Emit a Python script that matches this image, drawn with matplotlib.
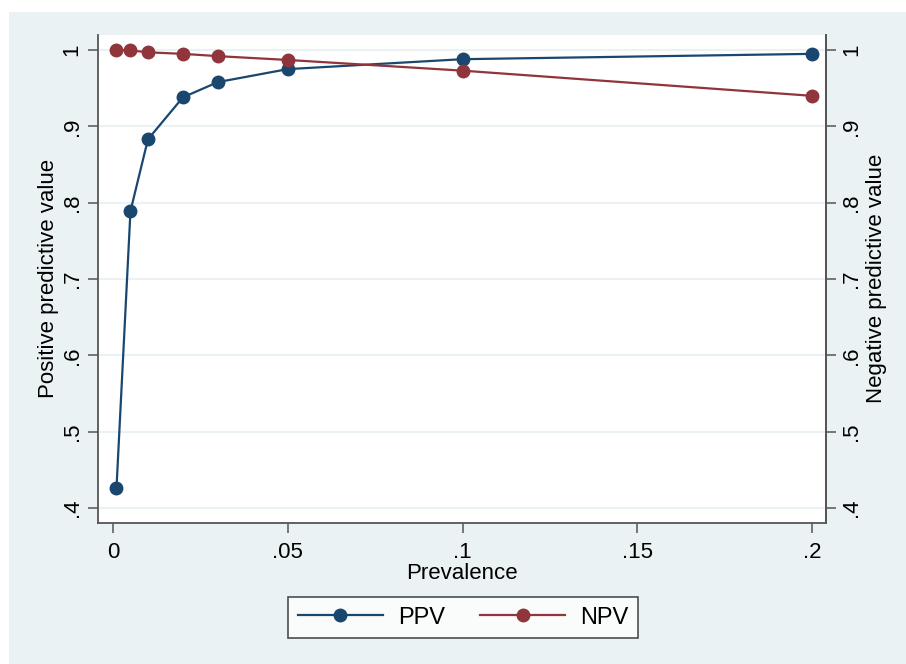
import matplotlib
matplotlib.use("Agg")
import matplotlib.pyplot as plt
from matplotlib.patches import Rectangle

plt.rcParams['font.family'] = ['Liberation Sans', 'DejaVu Sans']

prevalence = [0.001, 0.005, 0.01, 0.02, 0.03, 0.05, 0.1, 0.2]
ppv = [0.426, 0.789, 0.883, 0.938, 0.958, 0.975, 0.988, 0.995]
npv = [1.000, 0.9995, 0.997, 0.995, 0.992, 0.987, 0.973, 0.940]
xticks = [0, 0.05, 0.1, 0.15, 0.2]
xticklabels = ["0", ".05", ".1", ".15", ".2"]
yticks = [0.4, 0.5, 0.6, 0.7, 0.8, 0.9, 1.0]
yticklabels = [".4", ".5", ".6", ".7", ".8", ".9", "1"]

W, H = 906, 664
BG = "#eaf2f3"
C1 = "#1a476f"
C2 = "#90353b"
AX = "#555555"
fs = 16

fig = plt.figure(figsize=(W / 100, H / 100), dpi=100)
fig.patch.set_facecolor("white")
fig.add_artist(Rectangle((9 / W, 0), 1 - 9 / W, 1 - 12 / H, transform=fig.transFigure,
                         facecolor=BG, edgecolor="none", zorder=0))

l, r, t, b = 98, 826, 35, 522.7
ax = fig.add_axes([l / W, 1 - b / H, (r - l) / W, (b - t) / H])
ax.set_facecolor("white")
ax.set_xlim(-0.00429, 0.204)
ax.set_ylim(0.3807, 1.0197)

for yv in yticks:
    ax.axhline(yv, color=BG, lw=1.5, zorder=1)

ax.plot(prevalence, ppv, color=C1, lw=1.6, marker="o", ms=9, label="PPV", zorder=3)
ax.plot(prevalence, npv, color=C2, lw=1.6, marker="o", ms=9, label="NPV", zorder=3)

ax.set_xticks(xticks)
ax.set_xticklabels(xticklabels, fontsize=fs)
ax.set_yticks(yticks)
ax.set_yticklabels(yticklabels, fontsize=fs, rotation=90, va="center")
ax.tick_params(axis="both", direction="out", length=7, width=1.1, color=AX, pad=4)
ax.tick_params(axis="x", pad=7)
ax.spines["top"].set_visible(False)
for s in ["left", "right", "bottom"]:
    ax.spines[s].set_color(AX)
    ax.spines[s].set_linewidth(1.3)
ax.set_xlabel("Prevalence", fontsize=fs, labelpad=0)
ax.set_ylabel("Positive predictive value", fontsize=fs, labelpad=2)

ax2 = ax.twinx()
ax2.set_ylim(ax.get_ylim())
ax2.set_yticks(yticks)
ax2.set_yticklabels(yticklabels, fontsize=fs, rotation=90, va="center")
ax2.tick_params(axis="y", direction="out", length=7, width=1.1, color=AX, pad=4)
for s in ["top", "left", "bottom"]:
    ax2.spines[s].set_visible(False)
ax2.spines["right"].set_color(AX)
ax2.spines["right"].set_linewidth(1.3)
ax2.set_ylabel("Negative predictive value", fontsize=fs, rotation=90, labelpad=3)

handles, labels = ax.get_legend_handles_labels()
leg = fig.legend(handles, labels, loc="center", bbox_to_anchor=(463 / W, 1 - 617.5 / H),
                 ncol=2, fontsize=fs + 1, frameon=True, fancybox=False,
                 handlelength=3.6, handletextpad=0.63, columnspacing=1.5,
                 borderpad=0.4, numpoints=1)
leg.get_frame().set_edgecolor("#222222")
leg.get_frame().set_linewidth(1.2)
leg.get_frame().set_facecolor("white")

fig.savefig("out.png", dpi=100, facecolor=fig.get_facecolor())
